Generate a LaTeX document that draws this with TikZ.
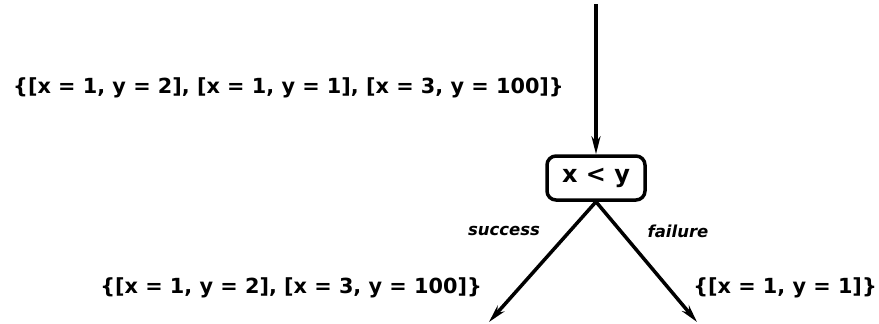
\documentclass[tikz,border=0pt]{standalone}
\usepackage{fontspec}
\setmainfont{DejaVu Sans}
\usetikzlibrary{arrows.meta}
\begin{document}
\begin{tikzpicture}[x=1pt,y=-1pt,
    flow/.style={line width=3.5pt,-{Stealth[length=18pt,width=9pt]}},
    setlabel/.style={inner sep=0pt,font=\fontsize{20.8}{24}\selectfont\bfseries},
    branch/.style={inner sep=0pt,font=\fontsize{16.5}{18}\selectfont\bfseries\itshape}]
        \useasboundingbox (0,0) rectangle (879,324);
        \coordinate (top) at (596,4);
        \node[draw,line width=3.5pt,rounded corners=9pt,minimum width=98pt,minimum height=44pt,
              font=\fontsize{24}{26}\selectfont\bfseries] (test) at (596,178) {x < y};
        \coordinate (yes) at (489,322);
        \coordinate (no) at (697,322);
        \draw[flow] (top) -- (test.north);
        \draw[flow] (test.south) -- (yes);
        \draw[flow] (test.south) -- (no);
        \node[setlabel,anchor=west] (input) at (13,88) {\{[x = 1, y = 2], [x = 1, y = 1], [x = 3, y = 100]\}};
        \node[setlabel,anchor=east] (trueset) at (482,288) {\{[x = 1, y = 2], [x = 3, y = 100]\}};
        \node[setlabel,anchor=east] (falseset) at (877,288) {\{[x = 1, y = 1]\}};
        \node[branch] (ok) at (504,231) {success};
        \node[branch] (ko) at (678,231) {failure};
    \end{tikzpicture}
\end{document}
